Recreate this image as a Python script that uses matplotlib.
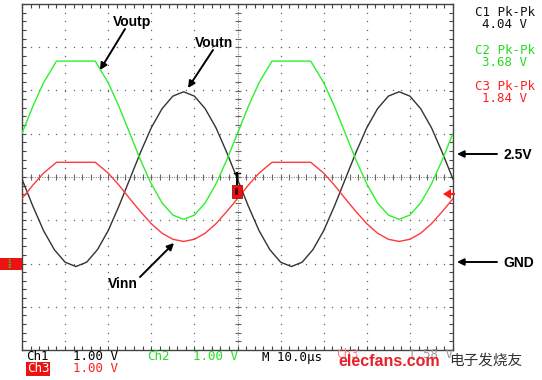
import matplotlib.pyplot as plt
import numpy as np
from matplotlib.patches import Rectangle, Polygon

# scope settings: 10 us/div, 1 V/div, all grounds 2 div below centre
t_ch1 = np.arange(0, 100.1, 2.5)
ch1 = [1.95, 1.33, 0.76, 0.32, 0.03, -0.07, 0.03, 0.32, 0.76, 1.33,
       1.95, 2.57, 3.14, 3.58, 3.87, 3.97, 3.87, 3.58, 3.14, 2.57,
       1.95, 1.33, 0.76, 0.32, 0.03, -0.07, 0.03, 0.32, 0.76, 1.33,
       1.95, 2.57, 3.14, 3.58, 3.87, 3.97, 3.87, 3.58, 3.14, 2.57,
       1.95]

t_ch23 = [0, 2.5, 5, 8, 17, 20, 22.5, 25, 27.5, 30, 32.5, 35, 37.5, 40, 42.5,
          45, 47.5, 50, 52.5, 55, 58, 67, 70, 72.5, 75, 77.5, 80, 82.5, 85,
          87.5, 90, 92.5, 95, 97.5, 100]
ch2 = [3.01, 3.63, 4.18, 4.68, 4.68, 4.18, 3.63, 3.01, 2.39, 1.84, 1.40, 1.12,
       1.02, 1.12, 1.40, 1.84, 2.39, 3.01, 3.63, 4.18, 4.68, 4.68, 4.18, 3.63,
       3.01, 2.39, 1.84, 1.40, 1.12, 1.02, 1.12, 1.40, 1.84, 2.39, 3.01]
ch3 = [1.50, 1.81, 2.09, 2.34, 2.34, 2.09, 1.81, 1.50, 1.20, 0.92, 0.70, 0.56,
       0.51, 0.56, 0.70, 0.92, 1.20, 1.50, 1.81, 2.09, 2.34, 2.34, 2.09, 1.81,
       1.50, 1.20, 0.92, 0.70, 0.56, 0.51, 0.56, 0.70, 0.92, 1.20, 1.50]

meas = [("C1 Pk-Pk", "4.04 V", "#111111"),
        ("C2 Pk-Pk", "3.68 V", "#22dd22"),
        ("C3 Pk-Pk", "1.84 V", "#ff2020")]

W, H = 542, 380
fig = plt.figure(figsize=(W / 100, H / 100), dpi=100)
fig.patch.set_facecolor("white")


def px(x, y):
    # pixel position -> figure fraction
    return (x / W, 1 - y / H)


ax = fig.add_axes([22 / W, 1 - 350 / H, 431 / W, 346 / H])
ax.set_xlim(0, 100)
ax.set_ylim(-2, 6)

# graticule dots
gy = np.arange(-2, 6.01, 0.2)
gx = np.arange(0, 100.1, 2)
for x in range(10, 100, 10):
    if x != 50:
        ax.plot(np.full(len(gy), x), gy, ls="none", marker="s", ms=0.9,
                mec="none", mfc="#666666", zorder=1)
for y in [-1, 0, 1, 3, 4, 5]:
    ax.plot(gx, np.full(len(gx), y), ls="none", marker="s", ms=0.9,
            mec="none", mfc="#666666", zorder=1)

# centre cross with ticks
ax.axhline(2, color="#888888", lw=0.8, ls=(0, (1, 1.2)), zorder=1)
ax.axvline(50, color="#888888", lw=0.8, ls=(0, (1, 1.2)), zorder=1)
ax.plot(gx, np.full(len(gx), 2), ls="none", marker="|", ms=4, mew=0.8,
        color="#666666", zorder=1)
ax.plot(np.full(len(gy), 50), gy, ls="none", marker="_", ms=4, mew=0.8,
        color="#666666", zorder=1)

for s in ax.spines.values():
    s.set_color("#444444")
    s.set_linewidth(1)
ax.set_xticks(gx)
ax.set_yticks(gy)
ax.tick_params(direction="in", length=3, width=0.8, color="#444444",
               top=True, right=True, labelbottom=False, labelleft=False)

# traces
ax.plot(t_ch1, ch1, color="#333333", lw=1.0, zorder=3)
ax.plot(t_ch23, ch2, color="#2ef02e", lw=1.0, zorder=3)
ax.plot(t_ch23, ch3, color="#ff3a3a", lw=1.0, zorder=3)

# trigger markers
fig.add_artist(Rectangle(px(232, 198), 10 / W, 13 / H, transform=fig.transFigure,
                         facecolor="#ee1111", edgecolor="#991111", lw=0.6, zorder=5))
fig.add_artist(Rectangle(px(235, 195), 3 / W, 7 / H, transform=fig.transFigure,
                         facecolor="#550000", edgecolor="none", zorder=6))
fig.lines.append(plt.Line2D([237 / W, 237 / W], [1 - 173 / H, 1 - 184 / H],
                            transform=fig.transFigure, color="black", lw=1.5))
fig.lines.append(plt.Line2D([234 / W, 240 / W], [1 - 173 / H, 1 - 173 / H],
                            transform=fig.transFigure, color="black", lw=1))
fig.add_artist(Polygon([px(443, 194), px(451, 189), px(451, 199)], closed=True,
                       transform=fig.transFigure, facecolor="#ff1a1a",
                       edgecolor="none", zorder=5))
fig.lines.append(plt.Line2D([450 / W, 454 / W], [1 - 194 / H, 1 - 194 / H],
                            transform=fig.transFigure, color="#ff1a1a", lw=1.5))

# ground marker on the left
fig.add_artist(Rectangle(px(0, 270), 22 / W, 12 / H, transform=fig.transFigure,
                         facecolor="#ee1111", edgecolor="none", zorder=5))
fig.text(*px(9, 264), "1\n2", color="#22dd22", fontsize=3.5, fontweight="bold",
         ha="center", va="center", linespacing=0.8, zorder=6)

# measurement readouts
mono = "DejaVu Sans Mono"
for i, (lab, val, col) in enumerate(meas):
    y0 = 13 + i * 37
    fig.text(*px(505, y0), lab, color=col, fontsize=9, family=mono,
             ha="center", va="center")
    fig.text(*px(505, y0 + 12), val, color=col, fontsize=9, family=mono,
             ha="center", va="center")

# bottom status line
fig.text(*px(26, 357), "Ch1", color="black", fontsize=9, family=mono, va="center")
fig.text(*px(73, 357), "1.00 V", color="black", fontsize=9, family=mono, va="center")
fig.text(*px(147, 357), "Ch2", color="#22dd22", fontsize=9, family=mono, va="center")
fig.text(*px(193, 357), "1.00 V", color="#22dd22", fontsize=9, family=mono, va="center")
fig.text(*px(262, 357), "M 10.0\u00b5s", color="black", fontsize=9, family=mono, va="center")
fig.text(*px(336, 355), "Ch3", color="#ff8080", fontsize=9, family=mono, va="center")
fig.text(*px(408, 355), "1.58 V", color="#999999", fontsize=9, family=mono, va="center")
fig.text(*px(27, 369), "Ch3", color="white", fontsize=9, family=mono, va="center",
         bbox=dict(facecolor="#ee1111", edgecolor="none", pad=0.6))
fig.text(*px(73, 369), "1.00 V", color="#ff2020", fontsize=9, family=mono, va="center")

# watermark
fig.text(*px(338, 362), "elecfans.com", color="#e8202a", fontsize=11.5,
         fontweight="bold", family="Liberation Sans", va="center", zorder=8)
fig.text(*px(449, 361), "电子发烧友", color="#333333", fontsize=10.5,
         family=["Noto Sans CJK SC", "DejaVu Sans"], va="center", zorder=8)

# signal labels with arrows
lab_font = dict(fontsize=10, fontweight="bold", family="Liberation Sans",
                color="black", va="center")
arrow = dict(arrowstyle="-|>", color="black", lw=1.4, mutation_scale=10,
             shrinkA=0, shrinkB=0)
fig.text(*px(132, 22), "Voutp", ha="center", **lab_font)
ax.annotate("", xy=px(100, 70), xytext=px(125, 29), xycoords="figure fraction",
            textcoords="figure fraction", arrowprops=arrow)
fig.text(*px(214, 43), "Voutn", ha="center", **lab_font)
ax.annotate("", xy=px(188, 88), xytext=px(213, 50), xycoords="figure fraction",
            textcoords="figure fraction", arrowprops=arrow)
fig.text(*px(123, 284), "Vinn", ha="center", **lab_font)
ax.annotate("", xy=px(174, 243), xytext=px(140, 277), xycoords="figure fraction",
            textcoords="figure fraction", arrowprops=arrow)
fig.text(*px(503, 155), "2.5V", ha="left", **lab_font)
ax.annotate("", xy=px(457, 154), xytext=px(497, 154), xycoords="figure fraction",
            textcoords="figure fraction", arrowprops=arrow)
fig.text(*px(503, 263), "GND", ha="left", **lab_font)
ax.annotate("", xy=px(457, 262), xytext=px(497, 262), xycoords="figure fraction",
            textcoords="figure fraction", arrowprops=arrow)

fig.savefig("out.png", dpi=100)
